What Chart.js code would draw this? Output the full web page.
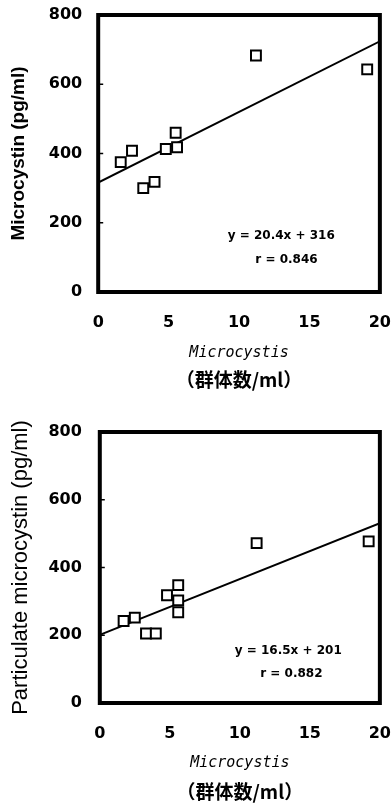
<!DOCTYPE html>
<html>
<head>
<meta charset="utf-8">
<script src="https://cdn.jsdelivr.net/npm/chart.js@4.4.1/dist/chart.umd.min.js"></script>
<style>
        html, body { margin: 0; padding: 0; background: #fff; }
        #arriba { position: absolute; left: 0; top: 0; width: 391px; height: 400px; }
        #abajo { position: absolute; left: 0; top: 400px; width: 391px; height: 405px; }
</style>
</head>
<body>
<div id="arriba"><canvas id="graficaTotal"></canvas></div>
<div id="abajo"><canvas id="graficaParticulada"></canvas></div>
<script>
// Colonias de Microcystis por ml vs microcistina
const colonias1 = [1.6, 2.4, 3.2, 4.0, 4.8, 5.5, 5.6, 11.2, 19.1];
const microcistina1 = [375, 408, 300, 318, 413, 460, 418, 683, 643];

const colonias2 = [1.7, 2.5, 3.3, 4.0, 4.8, 5.6, 5.6, 5.6, 11.2, 19.2];
const microcistina2 = [242, 252, 205, 205, 318, 348, 303, 268, 472, 477];

// rectas de regresion
const pendientes = [20.4, 16.5];
const intersecciones = [316, 201];
const correlaciones = ['0.846', '0.882'];

const ticksX = [0, 5, 10, 15, 20];
const ticksY = [0, 200, 400, 600, 800];

const titulosY = ['Microcystin (pg/ml)', 'Particulate microcystin (pg/ml)'];

Chart.defaults.font.family = '"Liberation Sans", Arial, sans-serif';
Chart.defaults.color = '#000';

const fuenteTicks = { family: '"DejaVu Sans", sans-serif', size: 16, weight: 'bold' };

// marco grueso, marcas hacia adentro y la ecuacion
const marcoPlugin = {
        id: 'marco',
        afterDraw(chart, args, opts) {
                const { ctx, chartArea: a, scales } = chart;
                ctx.save();
                ctx.strokeStyle = '#000';
                ctx.lineWidth = 1.5;
                ticksY.forEach(v => {
                        const y = scales.y.getPixelForValue(v);
                        ctx.beginPath();
                        ctx.moveTo(a.left, y);
                        ctx.lineTo(a.left + 5, y);
                        ctx.stroke();
                });
                ctx.lineWidth = 4;
                ctx.strokeRect(a.left, a.top, a.width, a.height);
                ctx.fillStyle = '#000';
                ctx.font = 'bold 12px "DejaVu Sans", sans-serif';
                ctx.textAlign = 'center';
                ctx.textBaseline = 'middle';
                ctx.fillText(opts.ecuacion, scales.x.getPixelForValue(opts.x1), scales.y.getPixelForValue(opts.y1));
                ctx.fillText(opts.r, scales.x.getPixelForValue(opts.x2), scales.y.getPixelForValue(opts.y2));
                ctx.restore();
        }
};

function crearGraficaDispersion(contenedorId, i, xs, ys, cfg) {
        const m = pendientes[i], b = intersecciones[i];
        return new Chart(document.getElementById(contenedorId).getContext('2d'), {
                type: 'scatter',
                data: {
                        datasets: [{
                                data: xs.map((x, k) => ({ x: x, y: ys[k] })),
                                pointStyle: 'rect',
                                pointRadius: 7,
                                pointBorderWidth: 2,
                                pointBorderColor: '#000',
                                pointBackgroundColor: '#fff',
                                order: 0
                        }, {
                                type: 'line',
                                data: [{ x: 0, y: b }, { x: 20, y: m * 20 + b }],
                                borderColor: '#000',
                                borderWidth: 2,
                                pointRadius: 0,
                                fill: false,
                                order: 1
                        }]
                },
                options: {
                        responsive: true,
                        maintainAspectRatio: false,
                        animation: false,
                        layout: { padding: { top: cfg.padTop, left: 0, right: 0, bottom: 0 } },
                        plugins: {
                                legend: { display: false },
                                tooltip: { enabled: false },
                                title: {
                                        display: true,
                                        position: 'bottom',
                                        fullSize: false,
                                        text: '（群体数/ml）',
                                        font: { family: '"Noto Sans CJK JP", sans-serif', size: 19, weight: 'bold' },
                                        padding: cfg.padGrupo
                                },
                                marco: {
                                        ecuacion: 'y = ' + m + 'x + ' + b,
                                        r: 'r = ' + correlaciones[i],
                                        x1: cfg.x1, y1: cfg.y1,
                                        x2: cfg.x2, y2: cfg.y2
                                }
                        },
                        scales: {
                                x: {
                                        type: 'linear',
                                        min: 0,
                                        max: 20,
                                        afterBuildTicks: s => { s.ticks = ticksX.map(v => ({ value: v })); },
                                        grid: { display: false, drawTicks: true, tickLength: 21 },
                                        border: { display: false },
                                        ticks: { padding: 0, font: fuenteTicks },
                                        title: {
                                                display: true,
                                                text: 'Microcystis',
                                                font: { family: '"DejaVu Sans Mono", monospace', size: 15, style: 'italic' },
                                                padding: cfg.padTituloX
                                        }
                                },
                                y: {
                                        min: 0,
                                        max: 800,
                                        afterBuildTicks: s => { s.ticks = ticksY.map(v => ({ value: v })); },
                                        grid: { display: false, drawTicks: true, tickLength: cfg.largoY },
                                        border: { display: false },
                                        ticks: { padding: 0, font: fuenteTicks },
                                        title: {
                                                display: true,
                                                text: titulosY[i],
                                                font: cfg.fuenteTituloY,
                                                padding: cfg.padTituloY
                                        }
                                }
                        }
                },
                plugins: [marcoPlugin]
        });
}

crearGraficaDispersion('graficaTotal', 0, colonias1, microcistina1, {
        padTop: 15,
        largoY: 16,
        padTituloX: { top: 12, bottom: 2 },
        padGrupo: { top: 4, bottom: 9 },
        fuenteTituloY: { family: '"Liberation Sans Narrow", "Liberation Sans", sans-serif', size: 19, weight: 'bold' },
        padTituloY: { top: 7, bottom: 19 },
        x1: 13.0, y1: 162, x2: 13.37, y2: 92
});
crearGraficaDispersion('graficaParticulada', 1, colonias2, microcistina2, {
        padTop: 32,
        largoY: 18,
        padTituloX: { top: 11, bottom: 3 },
        padGrupo: { top: 5, bottom: 2 },
        fuenteTituloY: { family: '"Liberation Sans", sans-serif', size: 22 },
        padTituloY: { top: 8, bottom: 14 },
        x1: 13.46, y1: 153, x2: 13.68, y2: 86
});
</script>
</body>
</html>
